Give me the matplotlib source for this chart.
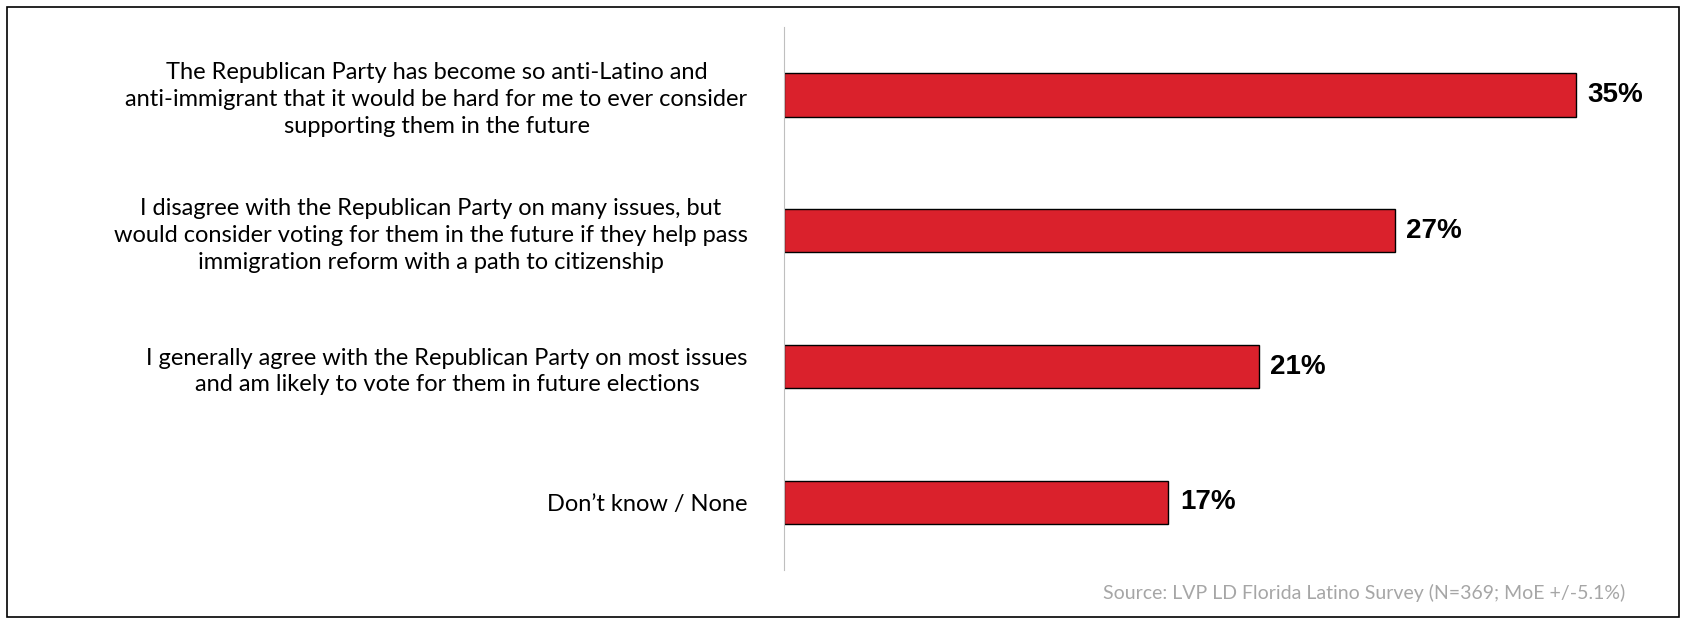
import matplotlib
matplotlib.use("Agg")
import matplotlib.pyplot as plt
from matplotlib.patches import Rectangle

labels = [
    "The Republican Party has become so anti-Latino and\nanti-immigrant that it would be hard for me to ever consider\nsupporting them in the future",
    "I disagree with the Republican Party on many issues, but\nwould consider voting for them in the future if they help pass\nimmigration reform with a path to citizenship",
    "I generally agree with the Republican Party on most issues\nand am likely to vote for them in future elections",
    "Don\u2019t know / None",
]
values = [35, 27, 21, 17]

fig = plt.figure(figsize=(16.89, 6.24), dpi=100)
fig.patches.append(Rectangle((0.004, 0.012), 0.99, 0.976, transform=fig.transFigure,
                             fill=False, edgecolor="black", linewidth=1.2))
ax = fig.add_axes([0.464, 0.086, 0.536, 0.871])
y = list(range(len(values)))
ax.barh(y, values, height=0.32, color="#DA212C", edgecolor="black", linewidth=1)
ax.set_ylim(3.5, -0.5)
ax.set_xlim(0, 40)
for yi, v in zip(y, values):
    ax.text(v + 0.5, yi, f"{v}%", va="center", ha="left", fontsize=20,
            fontweight="bold", family="Liberation Sans")
ax.set_yticks(y)
ax.set_yticklabels(labels, fontsize=17, family="Lato", ha="right",
                   multialignment="center", linespacing=1.35)
ax.tick_params(axis="y", length=0, pad=26)
ax.set_xticks([])
for s in ["top", "right", "bottom"]:
    ax.spines[s].set_visible(False)
ax.spines["left"].set_color("#BFBFBF")
fig.text(0.962, 0.05, "Source: LVP LD Florida Latino Survey (N=369; MoE +/-5.1%)",
         ha="right", va="center", fontsize=14, color="#A6A6A6", family="Lato")
fig.savefig("out.png", dpi=100)
